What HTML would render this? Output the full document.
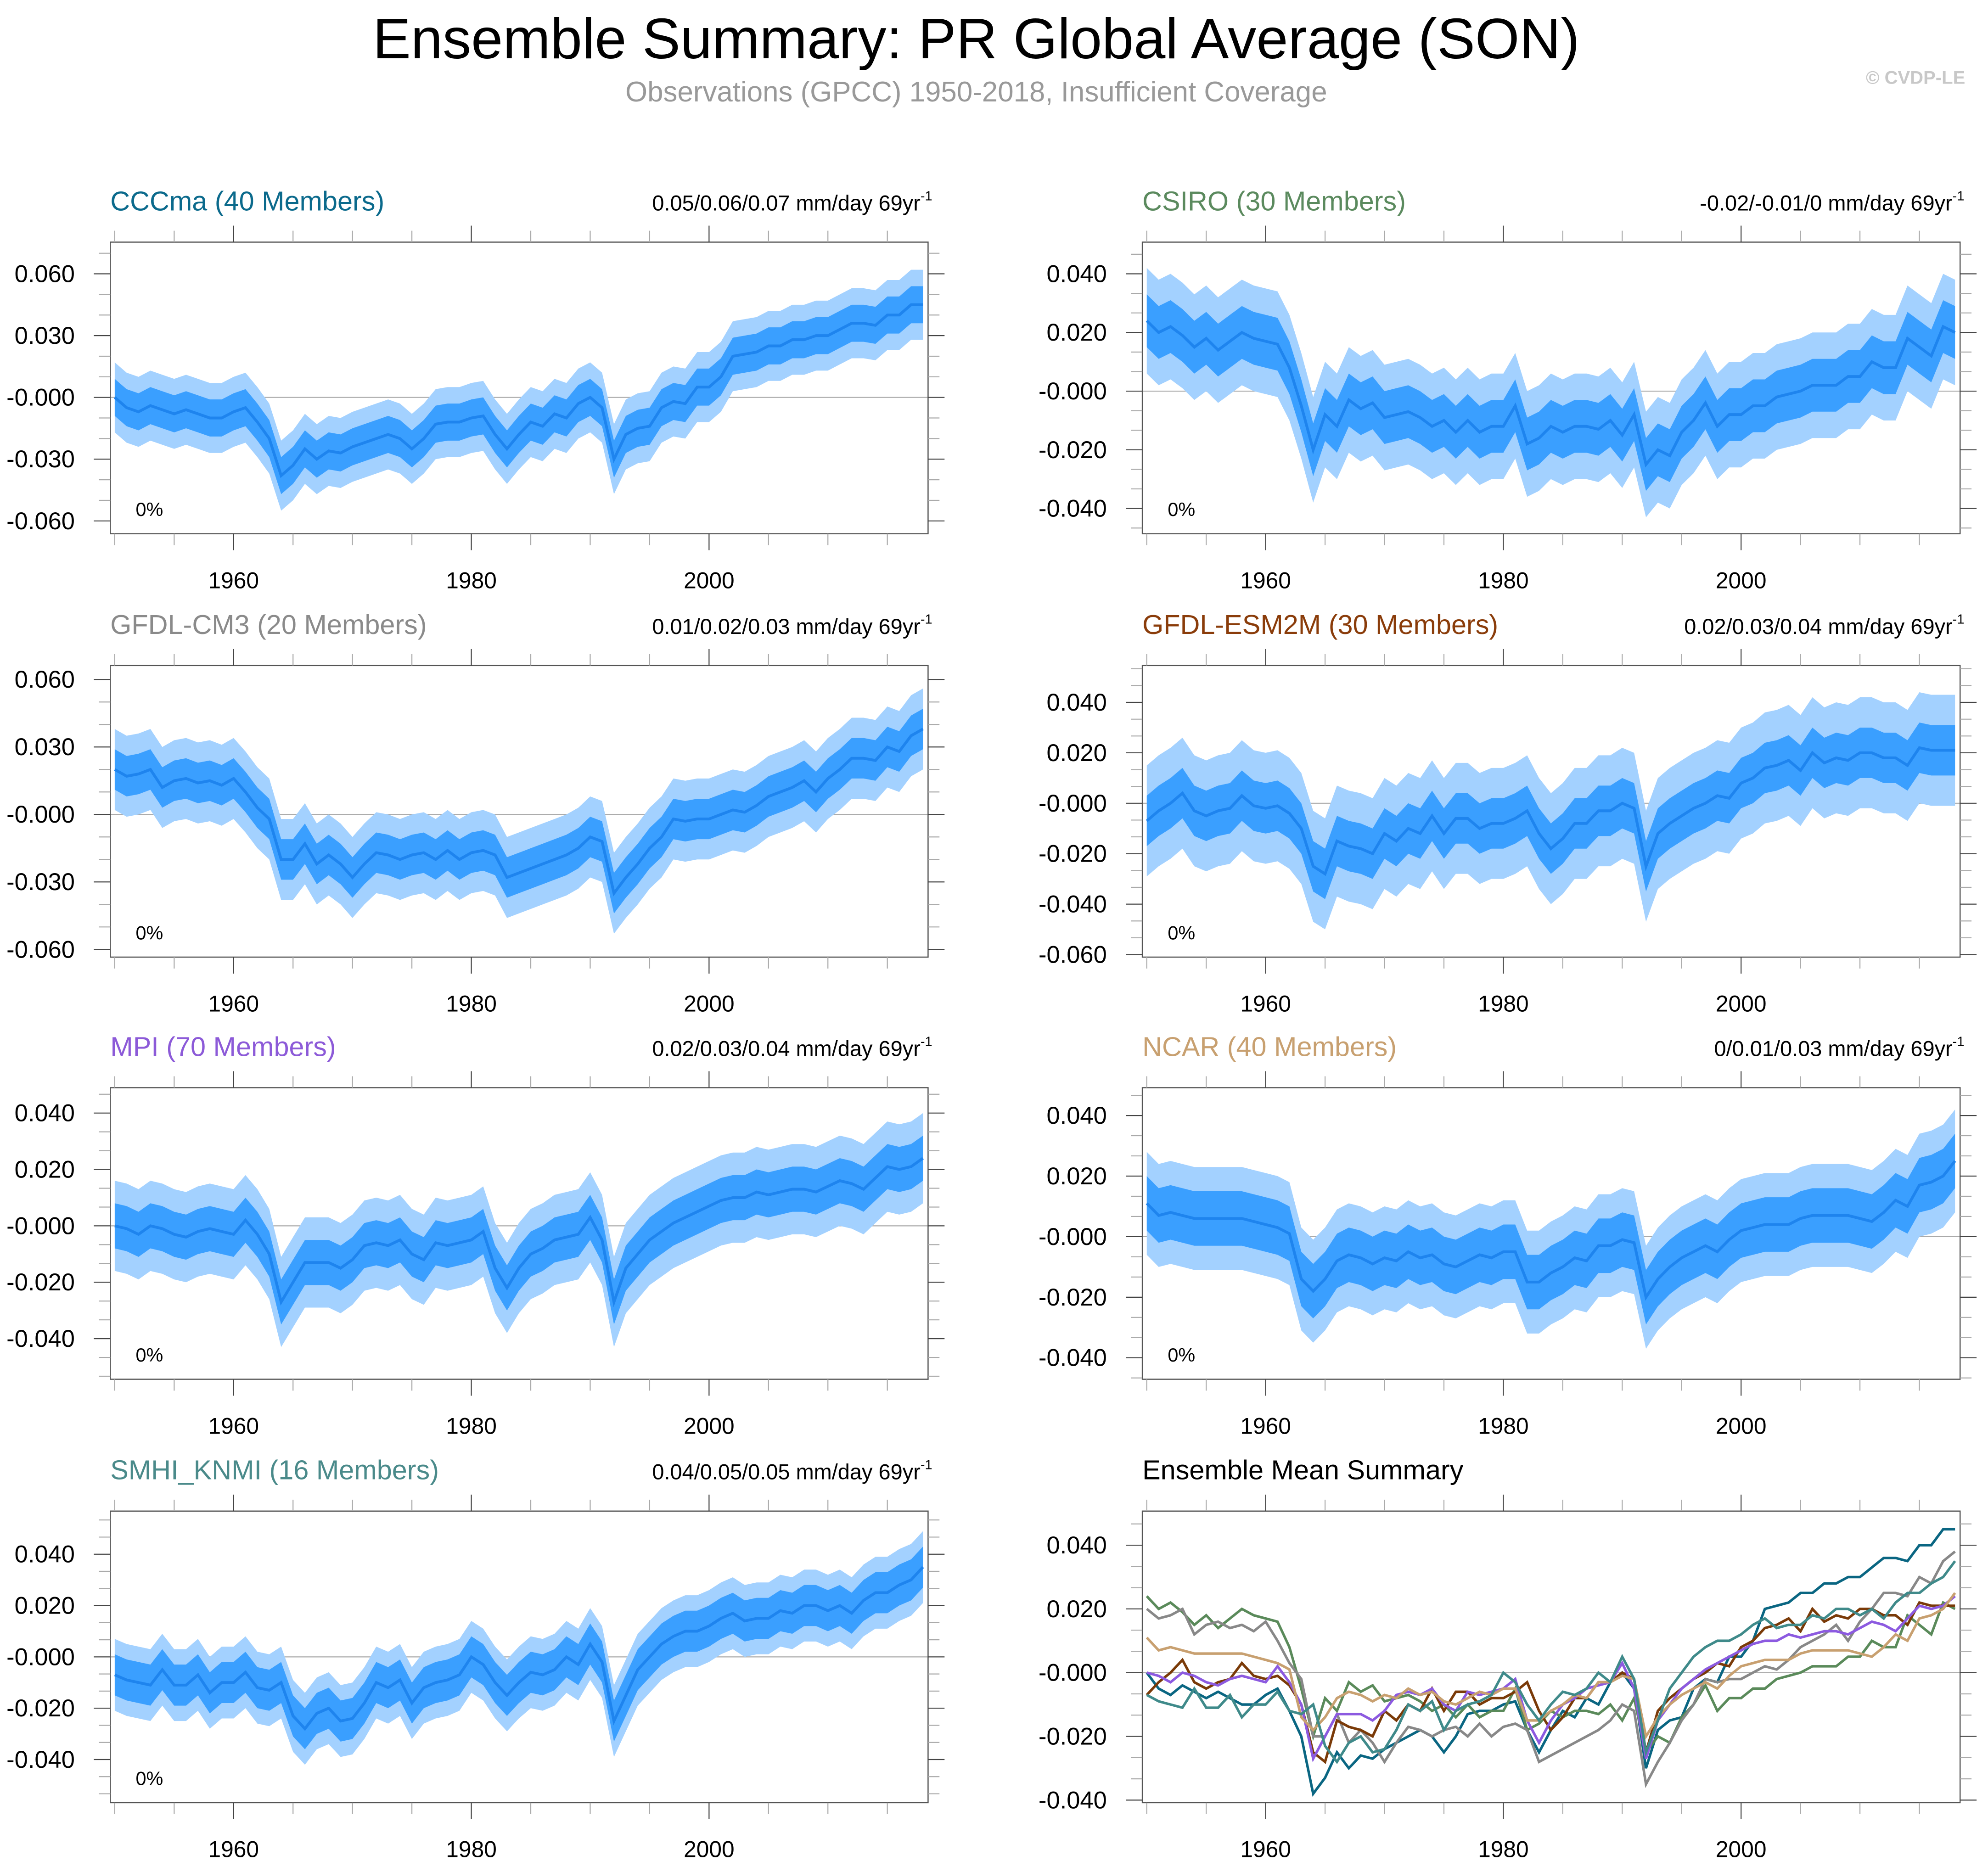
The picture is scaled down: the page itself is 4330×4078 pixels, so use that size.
<!DOCTYPE html>
<html><head><meta charset="utf-8"><style>
html,body{margin:0;padding:0;background:#fff}
svg{display:block;font-family:"Liberation Sans",sans-serif}
</style></head><body>
<svg id="fig" width="4330" height="4078" viewBox="0 0 1568 1476.7" preserveAspectRatio="none" xmlns="http://www.w3.org/2000/svg">
<text x="770" y="46" font-size="45" text-anchor="middle" fill="#000">Ensemble Summary: PR Global Average (SON)</text>
<text x="770" y="80" font-size="22.4" text-anchor="middle" fill="#999">Observations (GPCC) 1950-2018, Insufficient Coverage</text>
<text x="1550" y="66" font-size="14.5" font-weight="bold" text-anchor="end" fill="#c8c8c8">© CVDP-LE</text>
</svg>
<script>
const years = Array.from({length:69},(_,i)=>1950+i);
const cccma = [0,-5,-7,-4,-6,-8,-6,-8,-10,-10,-7,-5,-12,-20,-38,-33,-25,-30,-26,-27,-24,-22,-20,-18,-20,-25,-20,-13,-12,-12,-10,-9,-18,-25,-18,-12,-14,-8,-10,-3,0,-5,-30,-18,-15,-14,-5,-2,-3,5,5,10,20,21,22,25,25,28,28,30,30,33,36,36,35,40,40,45,45];
const csiro = [24,20,22,19,15,18,14,17,20,18,17,16,8,-5,-20,-8,-12,-3,-6,-4,-9,-8,-7,-9,-12,-10,-14,-10,-14,-12,-12,-5,-18,-16,-12,-14,-12,-12,-13,-10,-15,-8,-25,-20,-22,-14,-10,-4,-12,-8,-8,-5,-5,-2,-1,0,2,2,2,5,5,10,8,8,18,15,12,22,20];
const gfdlcm3 = [20,17,18,20,12,15,16,14,15,13,16,10,3,-2,-20,-20,-13,-22,-18,-22,-28,-22,-17,-18,-20,-18,-17,-20,-16,-20,-17,-16,-18,-28,-26,-24,-22,-20,-18,-15,-10,-12,-35,-28,-22,-15,-10,-2,-3,-2,-2,0,2,1,4,8,10,12,15,10,16,20,25,25,24,30,28,35,38];
const gfdlesm = [-7,-3,0,4,-3,-5,-3,-2,3,-1,-2,-1,-4,-10,-25,-28,-15,-17,-18,-20,-12,-15,-10,-12,-5,-12,-6,-6,-10,-8,-8,-6,-3,-12,-18,-14,-8,-8,-3,-3,0,-2,-25,-12,-8,-5,-2,0,3,2,8,10,14,15,17,13,20,16,18,17,20,20,18,18,15,22,21,21,21];
const mpi = [0,-1,-3,0,-1,-3,-4,-2,-1,-2,-3,2,-3,-10,-27,-20,-13,-13,-13,-15,-12,-7,-6,-7,-5,-10,-12,-6,-7,-6,-5,-2,-15,-22,-15,-10,-8,-5,-4,-3,3,-5,-27,-15,-10,-5,-2,1,3,5,7,9,10,10,12,11,12,13,13,12,14,16,15,13,17,21,20,21,24];
const ncar = [11,7,8,7,6,6,6,6,6,5,4,3,1,-14,-18,-14,-8,-6,-7,-9,-7,-8,-5,-7,-6,-9,-10,-8,-6,-7,-5,-5,-15,-15,-12,-10,-7,-8,-3,-3,-1,-2,-20,-14,-10,-7,-5,-3,-5,-1,2,3,4,4,4,6,7,7,7,7,6,5,8,12,10,17,18,20,25];
const smhi = [-7,-9,-10,-11,-5,-11,-11,-7,-14,-10,-10,-6,-12,-13,-10,-23,-28,-22,-20,-25,-24,-18,-10,-12,-9,-18,-12,-10,-9,-7,0,-3,-10,-15,-10,-6,-7,-5,0,-3,5,-2,-25,-15,-5,0,5,8,10,10,12,15,17,14,15,15,18,17,20,20,18,20,17,22,25,25,28,30,35];
const innerSpread = [9,9,9,10,8,9,8];
const outerSpread = [17,18,18,22,16,17,14];
const modelNames = ["CCCma (40 Members)","CSIRO (30 Members)","GFDL-CM3 (20 Members)","GFDL-ESM2M (30 Members)","MPI (70 Members)","NCAR (40 Members)","SMHI_KNMI (16 Members)"];
const trendLabels = ["0.05/0.06/0.07 mm/day 69yr","-0.02/-0.01/0 mm/day 69yr","0.01/0.02/0.03 mm/day 69yr","0.02/0.03/0.04 mm/day 69yr","0.02/0.03/0.04 mm/day 69yr","0/0.01/0.03 mm/day 69yr","0.04/0.05/0.05 mm/day 69yr"];
const yTickSets = [[0.06,0.03,0,-0.03,-0.06],[0.04,0.02,0,-0.02,-0.04],[0.06,0.03,0,-0.03,-0.06],[0.04,0.02,0,-0.02,-0.04,-0.06],[0.04,0.02,0,-0.02,-0.04],[0.04,0.02,0,-0.02,-0.04],[0.04,0.02,0,-0.02,-0.04],[0.04,0.02,0,-0.02,-0.04]];
const xTicks = [1960,1980,2000];
const allSeries=[cccma,csiro,gfdlcm3,gfdlesm,mpi,ncar,smhi];
const titleColors=["#0b6a8c","#5b8a5e","#8a8a8a","#8a3c0a","#8c5ad8","#c8a070","#4a8a8a"];
const lineColors=["#0a6682","#5a8a5a","#888888","#7a3a08","#8c5ae0","#c8a070","#3f8a8a"];
const panels=[
 {x:87,y:191,t:0.0754,b:-0.0662},
 {x:901,y:191,t:0.0508,b:-0.0486},
 {x:87,y:525,t:0.0662,b:-0.0634},
 {x:901,y:525,t:0.0546,b:-0.061},
 {x:87,y:858,t:0.049,b:-0.0544},
 {x:901,y:858,t:0.0492,b:-0.0471},
 {x:87,y:1192,t:0.0568,b:-0.0568},
 {x:901,y:1192,t:0.0507,b:-0.0408}];
const W=645,H=230;
const svg=document.getElementById('fig');
const NS='http://www.w3.org/2000/svg';
function mk(tag,attrs,parent){const e=document.createElementNS(NS,tag);for(const k in attrs)e.setAttribute(k,attrs[k]);(parent||svg).appendChild(e);return e;}
function fmtTick(v){let s=v.toFixed(3);if(Math.abs(v)<1e-9)s="-0.000";return s;}
panels.forEach((p,i)=>{
  const g=mk('g',{});
  
  
  const xs=yr=>p.x+3.5+(yr-1950)*9.375;
  const ys=v=>p.y+(p.t-v)/(p.t-p.b)*H;
  const z=mk('line',{x1:p.x,x2:p.x+W,y1:ys(0),y2:ys(0),stroke:'#aaa','stroke-width':0.8},g);
  
  
  if(i<7){
    const s=allSeries[i];
    const band=(w,col,name)=>{
      let pts=years.map((y,k)=>xs(y)+','+ys((s[k]+w)/1000));
      pts=pts.concat(years.slice().reverse().map((y,k)=>xs(y)+','+ys((s[68-k]-w)/1000)));
      const e=mk('polygon',{points:pts.join(' '),fill:col},g);
      
      
    };
    band(outerSpread[i],'#a3d1ff','outer-spread-band');
    band(innerSpread[i],'#3a9fff','inner-spread-band');
    const l=mk('polyline',{points:years.map((y,k)=>xs(y)+','+ys(s[k]/1000)).join(' '),fill:'none',stroke:'#1e84ee','stroke-width':2.2},g);
    
    
    const t=mk('text',{x:p.x,y:p.y-25,'font-size':21.5,fill:titleColors[i]},g);t.textContent=modelNames[i];
    
    
    const tr=mk('text',{x:p.x+W-6,y:p.y-25,'font-size':17,'text-anchor':'end',fill:'#000'},g);tr.textContent=trendLabels[i];
    
    
    const sup=mk('text',{x:p.x+W-6,y:p.y-33,'font-size':10.5,fill:'#000'},g);sup.textContent='-1';
    
    
    const pc=mk('text',{x:p.x+20,y:p.y+216,'font-size':15,fill:'#000'},g);pc.textContent='0%';
    
    
  } else {
    allSeries.forEach((s,k)=>{
      const l=mk('polyline',{points:years.map((y,j)=>xs(y)+','+ys(s[j]/1000)).join(' '),fill:'none',stroke:lineColors[k],'stroke-width':2},g);
      
      
    });
    const t=mk('text',{x:p.x,y:p.y-25,'font-size':21.5,fill:'#000'},g);t.textContent='Ensemble Mean Summary';
    
    
  }
  const fr=mk('rect',{x:p.x,y:p.y,width:W,height:H,fill:'none',stroke:'#555','stroke-width':0.9},g);
  
  
  for(let y=1950;y<=2015;y+=5){
    const maj=xTicks.includes(y), len=maj?13:9, x=xs(y);
    mk('line',{x1:x,x2:x,y1:p.y,y2:p.y-len,stroke:maj?'#444':'#aaa','stroke-width':0.8},g);
    mk('line',{x1:x,x2:x,y1:p.y+H,y2:p.y+H+len,stroke:maj?'#444':'#aaa','stroke-width':0.8},g);
  }
  xTicks.forEach(y=>{const t=mk('text',{x:xs(y),y:p.y+H+43,'font-size':18,'text-anchor':'middle',fill:'#000'},g);t.textContent=y;
    
    });
  const tk=yTickSets[i], step=(tk[0]-tk[1])/3;
  for(let v=tk[0]+6*step;v>=tk[tk.length-1]-6*step;v-=step){
    const yy=ys(v); if(yy<p.y-0.5||yy>p.y+H+0.5) continue;
    const maj=tk.some(q=>Math.abs(q-v)<1e-6), len=maj?13:9;
    mk('line',{x1:p.x,x2:p.x-len,y1:yy,y2:yy,stroke:maj?'#444':'#aaa','stroke-width':0.8},g);
    mk('line',{x1:p.x+W,x2:p.x+W+len,y1:yy,y2:yy,stroke:maj?'#444':'#aaa','stroke-width':0.8},g);
  }
  tk.forEach(v=>{const t=mk('text',{x:p.x-28,y:ys(v)+6.5,'font-size':19,'text-anchor':'end',fill:'#000'},g);t.textContent=fmtTick(v);
    
    });
});
</script>
</body></html>
